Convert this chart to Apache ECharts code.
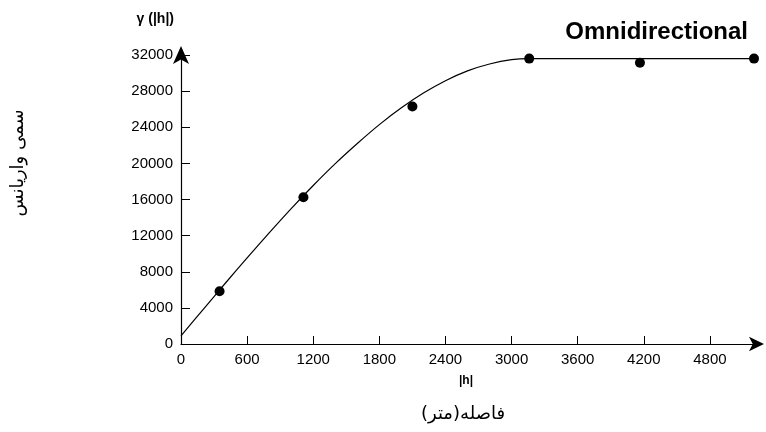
<!DOCTYPE html>
<html>
<head>
<meta charset="utf-8">
<script src="https://cdn.jsdelivr.net/npm/echarts@6/dist/echarts.min.js"></script>
<style>html,body{margin:0;padding:0;background:#fff}#c{width:766px;height:432px}</style>
</head>
<body>
<div id="c"></div>
<script>
// Experimental semivariogram points (lag distance |h|, gamma)
var lagH = [350, 1111, 2100, 3160, 4165, 5200];
var gammaObs = [5840, 16255, 26300, 31600, 31140, 31600];
// Fitted model curve
var modelH = [0, 200, 400, 600, 800, 1000, 1200, 1400, 1600, 1800, 2000, 2200, 2400, 2600, 2800, 3000, 3160, 5200];
var modelG = [900, 3810, 6700, 9540, 12300, 14990, 17550, 19970, 22200, 24290, 26150, 27780, 29150, 30240, 31000, 31480, 31600, 31600];
var xTicks = [0, 600, 1200, 1800, 2400, 3000, 3600, 4200, 4800];
var yTicks = [0, 4000, 8000, 12000, 16000, 20000, 24000, 28000, 32000];
var titleText = 'Omnidirectional';
var yName = 'γ (|h|)';
var xName = '|h|';
var yTitleFa = 'سمی واریانس';
var xTitleFa = 'فاصله(متر)';

var chart = echarts.init(document.getElementById('c'), null, {renderer: 'canvas'});
var font = 'Arial, "Liberation Sans", sans-serif';
var plain = function (v) { return String(v); };
chart.setOption({
  animation: false,
  backgroundColor: '#fff',
  title: {
    text: titleText, right: 13, top: 15,
    textStyle: {fontFamily: font, fontSize: 24, fontWeight: 'bold', color: '#000'}
  },
  grid: {left: 181, right: 12, top: 55, bottom: 88, containLabel: false},
  xAxis: {
    type: 'value', min: 0, max: 5200,
    axisLine: {show: true, lineStyle: {color: '#000', width: 1.2}, symbol: ['none', 'arrow'], symbolSize: [11, 15], symbolOffset: [0, 10]},
    axisTick: {show: true, inside: true, length: 8, customValues: xTicks, lineStyle: {color: '#000'}},
    axisLabel: {customValues: xTicks, formatter: plain, color: '#000', fontFamily: font, fontSize: 15, margin: 8},
    splitLine: {show: false}
  },
  yAxis: {
    type: 'value', min: 0, max: 32000,
    axisLine: {show: true, lineStyle: {color: '#000', width: 1.2}, symbol: ['none', 'arrow'], symbolSize: [12, 18], symbolOffset: [0, 9]},
    axisTick: {show: true, inside: true, length: 9, customValues: yTicks, lineStyle: {color: '#000'}},
    axisLabel: {customValues: yTicks, formatter: plain, color: '#000', fontFamily: font, fontSize: 15, margin: 8},
    splitLine: {show: false}
  },
  graphic: [
    {type: 'text', x: 174, y: 19, style: {text: yName, fontFamily: font, fontSize: 14, fontWeight: 'bold', fill: '#000', align: 'right', verticalAlign: 'middle'}},
    {type: 'text', x: 466, y: 381, style: {text: xName, fontFamily: font, fontSize: 12, fontWeight: 'bold', fill: '#000', align: 'center', verticalAlign: 'middle'}},
    {type: 'text', x: 463, y: 414, style: {text: xTitleFa, fontFamily: '"DejaVu Sans", sans-serif', fontSize: 18, fill: '#000', align: 'center', verticalAlign: 'middle'}},
    {type: 'text', x: 18, y: 163, rotation: Math.PI / 2, style: {text: yTitleFa, fontFamily: '"DejaVu Sans", sans-serif', fontSize: 18, fill: '#000', align: 'center', verticalAlign: 'middle'}}
  ],
  series: [
    {
      type: 'line', data: modelH.map(function (h, i) { return [h, modelG[i]]; }),
      smooth: 0.3, showSymbol: false, symbol: 'none',
      lineStyle: {color: '#000', width: 1.2}, z: 2
    },
    {
      type: 'scatter', data: lagH.map(function (h, i) { return [h, gammaObs[i]]; }),
      symbol: 'circle', symbolSize: 10, itemStyle: {color: '#000', opacity: 1}, z: 3
    }
  ]
});
</script>
</body>
</html>
